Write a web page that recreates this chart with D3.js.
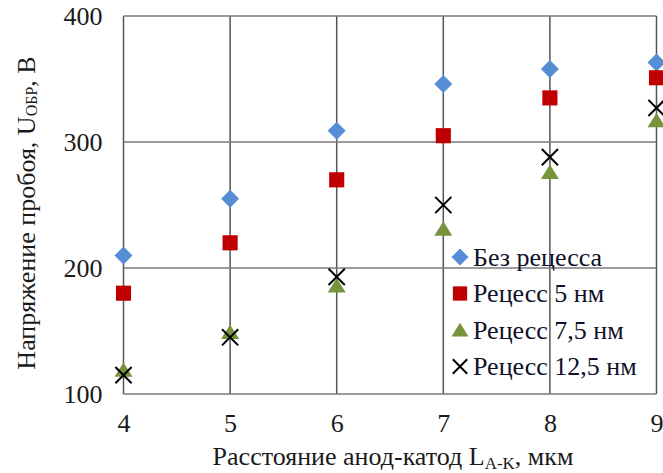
<!DOCTYPE html>
<html>
<head>
<meta charset="utf-8">
<script src="https://cdn.jsdelivr.net/npm/d3@7"></script>
<style>
  body { margin: 0; background: #fff; }
  #chart text { font-family: "Liberation Serif" !important; }
</style>
</head>
<body>
<svg id="chart" width="663" height="473"></svg>
<script>
const distances = [4, 5, 6, 7, 8, 9];
const noRecess = [210, 255, 309, 346, 358, 363];
const recess5 = [180, 220, 270, 305, 335, 351];
const recess75 = [119, 149, 186, 231, 276, 317];
const recess125 = [115, 145, 193, 250, 288, 327];
const xTicks = [4, 5, 6, 7, 8, 9];
const yTicks = [100, 200, 300, 400];

const series = [
    { name: "Без рецесса", values: noRecess, shape: "diamond", color: "#558ed5" },
    { name: "Рецесс 5 нм", values: recess5, shape: "square", color: "#c00000" },
    { name: "Рецесс 7,5 нм", values: recess75, shape: "triangle", color: "#77933c" },
    { name: "Рецесс 12,5 нм", values: recess125, shape: "cross", color: "#000" }
];

const width = 663, height = 473;
const margin = { top: 16, right: 6.5, bottom: 79, left: 123.5 };
const svg = d3.select("#chart").attr("font-family", "Liberation Serif");
const g = svg.append("g").attr("transform", `translate(${margin.left},${margin.top})`);
const w = width - margin.left - margin.right;
const h = height - margin.top - margin.bottom;

const x = d3.scaleLinear().domain([4, 9]).range([0, w]);
const y = d3.scaleLinear().domain([100, 400]).range([h, 0]);

// grid
g.selectAll(".vgrid").data(xTicks).enter().append("line")
    .attr("x1", d => x(d)).attr("x2", d => x(d))
    .attr("y1", 0).attr("y2", h)
    .attr("stroke", "#555").attr("stroke-width", 1.5);
g.selectAll(".hgrid").data(yTicks).enter().append("line")
    .attr("x1", 0).attr("x2", w)
    .attr("y1", d => y(d)).attr("y2", d => y(d))
    .attr("stroke", "#7a7a7a").attr("stroke-width", 1.6);

// axes (labels only)
const xAxis = g.append("g").attr("transform", `translate(0,${h})`)
    .call(d3.axisBottom(x).tickValues(xTicks).tickSize(0).tickPadding(20).tickFormat(d3.format("d")));
const yAxis = g.append("g")
    .call(d3.axisLeft(y).tickValues(yTicks).tickSize(0).tickPadding(21).tickFormat(d3.format("d")));
[xAxis, yAxis].forEach(a => {
    a.select(".domain").remove();
    a.attr("font-family", "Liberation Serif").attr("font-size", 26);
    a.selectAll("text").attr("fill", "#1a1a1a");
});

// markers
function drawMarker(sel, shape, color, size) {
    if (shape === "cross") {
        const s = size * 0.45;
        sel.append("path").attr("d", `M${-s},${-s}L${s},${s}M${-s},${s}L${s},${-s}`)
            .attr("stroke", color).attr("stroke-width", 2).attr("fill", "none");
    } else if (shape === "diamond") {
        const s = size * 0.5;
        sel.append("path").attr("d", `M0,${-s}L${s},0L0,${s}L${-s},0Z`).attr("fill", color);
    } else if (shape === "square") {
        const s = size * 0.42;
        sel.append("rect").attr("x", -s).attr("y", -s).attr("width", 2 * s).attr("height", 2 * s).attr("fill", color);
    } else if (shape === "triangle") {
        const s = size * 0.5;
        sel.append("path").attr("d", `M0,${-s * 0.85}L${s},${s * 0.75}L${-s},${s * 0.75}Z`).attr("fill", color);
    }
}

series.forEach(s => {
    distances.forEach((d, i) => {
        const m = g.append("g").attr("transform", `translate(${x(d)},${y(s.values[i])})`);
        drawMarker(m, s.shape, s.color, 18);
    });
});

// legend
const legend = svg.append("g").attr("transform", "translate(460,257)");
series.forEach((s, i) => {
    const row = legend.append("g").attr("transform", `translate(0,${i * 36.5})`);
    drawMarker(row, s.shape, s.color, s.shape === "cross" ? 16 : 17);
    row.append("text").attr("x", 13).attr("y", 8.5)
        .attr("font-family", "Liberation Serif").attr("font-size", 26)
        .attr("fill", "#10102a").text(s.name);
});

// axis titles
const xt = svg.append("text").attr("x", 393).attr("y", 465).attr("text-anchor", "middle")
    .attr("font-family", "Liberation Serif").attr("font-size", 26).attr("fill", "#1a1a1a");
xt.append("tspan").text("Расстояние анод-катод L");
xt.append("tspan").attr("font-size", 17).attr("dy", 4).text("A-K");
xt.append("tspan").attr("dy", -4).text(", мкм");

const yt = svg.append("text").attr("transform", "translate(35,213) rotate(-90)")
    .attr("text-anchor", "middle")
    .attr("font-family", "Liberation Serif").attr("font-size", 26).attr("fill", "#1a1a1a");
yt.append("tspan").text("Напряжение пробоя,  U");
yt.append("tspan").attr("font-size", 16).attr("dy", 2).text("ОБР");
yt.append("tspan").attr("dy", -2).text(", В");
</script>
</body>
</html>
